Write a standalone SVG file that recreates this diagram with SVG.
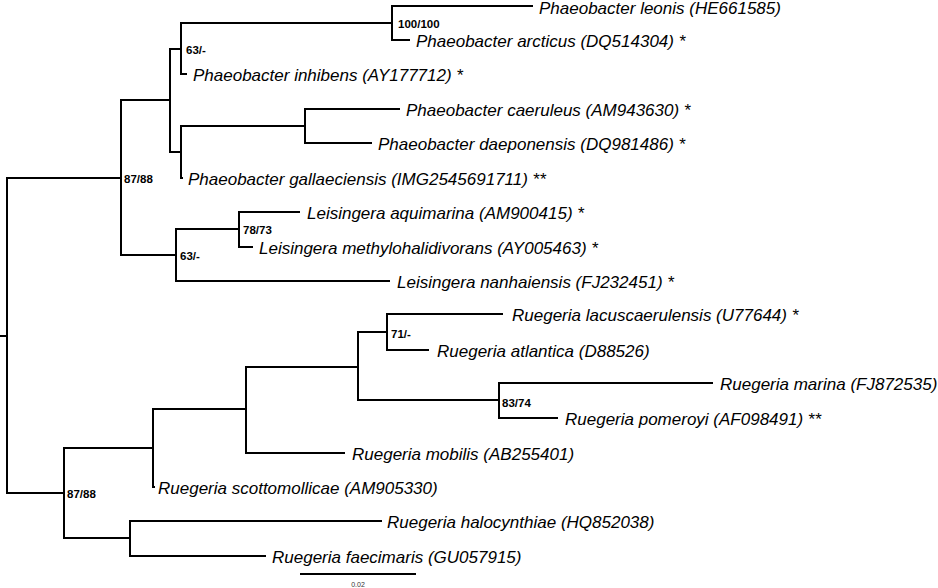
<svg xmlns="http://www.w3.org/2000/svg" width="938" height="588" viewBox="0 0 938 588">
<style>
.e{fill:none;stroke:#000;stroke-width:2;stroke-linejoin:miter;stroke-linecap:butt}
.t{font-family:"Liberation Sans",Arial,sans-serif;font-style:italic;font-size:17px;fill:#000}
.b{font-family:"Liberation Sans",Arial,sans-serif;font-weight:bold;font-size:11.5px;fill:#000}
.s{font-family:"Liberation Sans",Arial,sans-serif;font-size:7px;fill:#333}
</style>
<rect width="938" height="588" fill="#fff"/>
<g id="connectors">
<path class="e" d="M0,336 H7 M121,178 H7 V493 H64"/>
<path class="e" d="M170,100 H121 V255 H176"/>
<path class="e" d="M181,49 H170 V152 H181"/>
<path class="e" d="M392,23 H181 V74 H187"/>
<path class="e" d="M533,6 H392 V40 H410"/>
<path class="e" d="M305,126 H181 V178 H183"/>
<path class="e" d="M400,109 H305 V143 H372"/>
<path class="e" d="M239,229 H176 V281 H390"/>
<path class="e" d="M300,212 H239 V247 H253"/>
<path class="e" d="M153,448 H64 V538 H130"/>
<path class="e" d="M246,409 H153 V487 H155"/>
<path class="e" d="M358,367 H246 V453 H345"/>
<path class="e" d="M387,332 H358 V400 H499"/>
<path class="e" d="M503,314 H387 V350 H429"/>
<path class="e" d="M713,383 H499 V418 H558"/>
<path class="e" d="M382,521 H130 V556 H266"/>
<path class="e" d="M300,574 H416"/>
</g>
<g id="leaf-leonis"><text class="t" x="539" y="13.5">Phaeobacter leonis (HE661585)</text></g>
<g id="leaf-arcticus"><text class="t" x="416" y="47">Phaeobacter arcticus (DQ514304) *</text></g>
<g id="leaf-inhibens"><text class="t" x="193" y="81">Phaeobacter inhibens (AY177712) *</text></g>
<g id="leaf-caeruleus"><text class="t" x="406" y="116">Phaeobacter caeruleus (AM943630) *</text></g>
<g id="leaf-daeponensis"><text class="t" x="378" y="150">Phaeobacter daeponensis (DQ981486) *</text></g>
<g id="leaf-gallaeciensis"><text class="t" x="188" y="185">Phaeobacter gallaeciensis (IMG2545691711) **</text></g>
<g id="leaf-aquimarina"><text class="t" x="307" y="219">Leisingera aquimarina (AM900415) *</text></g>
<g id="leaf-methylohalidivorans"><text class="t" x="259" y="254">Leisingera methylohalidivorans (AY005463) *</text></g>
<g id="leaf-nanhaiensis"><text class="t" x="397" y="288">Leisingera nanhaiensis (FJ232451) *</text></g>
<g id="leaf-lacuscaerulensis"><text class="t" x="512" y="321">Ruegeria lacuscaerulensis (U77644) *</text></g>
<g id="leaf-atlantica"><text class="t" x="437" y="357">Ruegeria atlantica (D88526)</text></g>
<g id="leaf-marina"><text class="t" x="720" y="390">Ruegeria marina (FJ872535)</text></g>
<g id="leaf-pomeroyi"><text class="t" x="565" y="425">Ruegeria pomeroyi (AF098491) **</text></g>
<g id="leaf-mobilis"><text class="t" x="352" y="460">Ruegeria mobilis (AB255401)</text></g>
<g id="leaf-scottomollicae"><text class="t" x="158" y="494">Ruegeria scottomollicae (AM905330)</text></g>
<g id="leaf-halocynthiae"><text class="t" x="387" y="528">Ruegeria halocynthiae (HQ852038)</text></g>
<g id="leaf-faecimaris"><text class="t" x="272" y="563">Ruegeria faecimaris (GU057915)</text></g>
<g id="node-phaeo-leisingera"><text class="b" x="124" y="183">87/88</text></g>
<g id="node-inhibens"><text class="b" x="186" y="54">63/-</text></g>
<g id="node-leonis-arcticus"><text class="b" x="398" y="28">100/100</text></g>
<g id="node-aquimarina"><text class="b" x="243" y="234">78/73</text></g>
<g id="node-leisingera"><text class="b" x="180" y="260">63/-</text></g>
<g id="node-lacus-atlantica"><text class="b" x="391" y="338">71/-</text></g>
<g id="node-marina-pomeroyi"><text class="b" x="502" y="407">83/74</text></g>
<g id="node-ruegeria"><text class="b" x="67" y="498">87/88</text></g>
<g id="scale"><text class="s" x="358" y="587" text-anchor="middle">0.02</text></g>
</svg>
